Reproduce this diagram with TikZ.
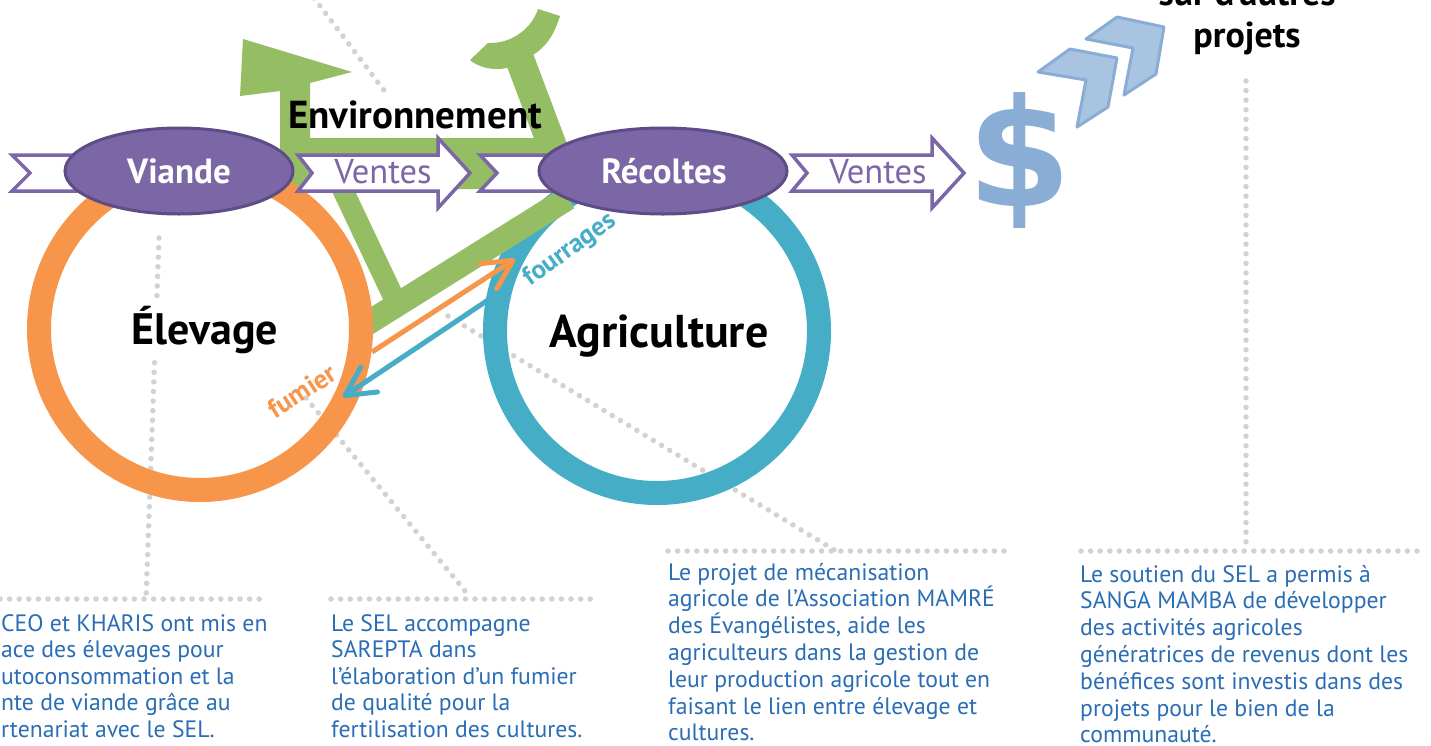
\documentclass[tikz,border=0pt]{standalone}
\usepackage{fontspec}
\setmainfont{PT Sans}
\newfontfamily\dollarfont{DejaVu Sans}
\usetikzlibrary{arrows.meta}
\definecolor{bikegreen}{HTML}{95BD64}
\definecolor{ringorange}{HTML}{F7964B}
\definecolor{ringblue}{HTML}{45ADC5}
\definecolor{purp}{HTML}{7B66A6}
\definecolor{purpdark}{HTML}{5D4C85}
\definecolor{dollarblue}{HTML}{89ADD4}
\definecolor{chevfill}{HTML}{A9C4E0}
\definecolor{dotgray}{HTML}{D2D2D2}
\definecolor{txtblue}{HTML}{2A6DB5}
\begin{document}
\begin{tikzpicture}[x=1pt,y=-1pt,
  dots/.style={draw=dotgray, line width=5.5pt, line cap=round, dash pattern=on 0pt off 9.6pt},
  body/.style={text=txtblue, font=\fontsize{23.7}{26}\selectfont, anchor=base west, inner sep=0pt},
  ribbon/.style={draw=purp, fill=white, line width=3.5pt, line join=miter},
  oval/.style={fill=purp, draw=purpdark, line width=3pt},
  ovaltext/.style={text=white, font=\fontsize{35}{40}\selectfont\bfseries, anchor=base, inner sep=0pt},
  ventes/.style={text=purp, font=\fontsize{34.5}{38}\selectfont, anchor=base, inner sep=0pt},
  big/.style={text=black, font=\fontsize{44}{48}\selectfont\bfseries, anchor=base, inner sep=0pt},
  flow/.style={line width=5pt, -{Straight Barb[length=29pt,width=30pt,round]}},
  chev/.style={fill=chevfill, draw=dollarblue, line width=3pt, line join=round}
]
\useasboundingbox (0,0) rectangle (1431,745);
\clip (0,0) rectangle (1431,745);
\fill[white] (0,0) rectangle (1431,745);

% ---------- dotted leader lines ----------
\coordinate (d0a) at (314,-2);   \coordinate (d0b) at (386,93);
\coordinate (d1a) at (159,238);  \coordinate (d1b) at (146,599);
\coordinate (h1a) at (0,599);    \coordinate (h1b) at (266,599);
\coordinate (d2a) at (306,398);  \coordinate (d2b) at (470,597);
\coordinate (h2a) at (331,599);  \coordinate (h2b) at (598,599);
\coordinate (d3a) at (448,316);  \coordinate (d3b) at (836,551);
\coordinate (h3a) at (668,551);  \coordinate (h3b) at (1008,551);
\coordinate (d4a) at (1246,81);  \coordinate (d4b) at (1246,551);
\coordinate (h4a) at (1081,551); \coordinate (h4b) at (1422,551);
\foreach \p in {d0,d1,h1,d2,h2,d3,h3,d4,h4}{\draw[dots] (\p a) -- (\p b);}

% ---------- rings and bicycle ----------
\draw[ringblue, line width=24pt] (657,331) circle[radius=162pt];
% saddle, seat post and top band
\fill[bikegreen] (243,39) -- (352,72) -- (310,83) -- (310,138) -- (545,138) -- (545,189)
  -- (280,189) -- (280,91) -- (240,96) -- cycle;
\draw[bikegreen, line width=21pt] (341,186) -- (394,298);
\draw[bikegreen, line width=24pt] (360,328) -- (568,198);
\draw[bikegreen, line width=29pt] (520,60) -- (567,185);
% handlebar
\fill[bikegreen] (538,9) -- (560,16) .. controls (553,38) and (545,47) .. (533,55) -- (507,68)
  .. controls (492,71) and (478,67) .. (470,60) -- (488,43)
  .. controls (512,44) and (532,28) .. (538,9) -- cycle;
\draw[ringorange, line width=24pt] (200,329) circle[radius=161pt];

% ---------- exchange arrows ----------
\coordinate (fa) at (372,352); \coordinate (fb) at (515,259);
\coordinate (ga) at (500,292); \coordinate (gb) at (343,397);
\draw[flow, ringorange] (fa) -- (fb);
\draw[flow, ringblue] (ga) -- (gb);
\node[text=ringorange, font=\fontsize{27}{30}\selectfont\bfseries, rotate=33, inner sep=0pt] (fumier) at (302,391) {fumier};
\node[text=ringblue, font=\fontsize{26.5}{30}\selectfont\bfseries, rotate=36, inner sep=0pt] (fourrages) at (570,250) {fourrages};

% ---------- ribbons, arrows and ovals ----------
\filldraw[ribbon] (12,155) -- (190,155) -- (190,191) -- (12,191) -- (30,173) -- cycle;
\filldraw[ribbon] (480,155) -- (600,155) -- (600,191) -- (480,191) -- (497,173) -- cycle;
\filldraw[ribbon] (298,155) -- (438,155) -- (438,138) -- (470,173) -- (438,208) -- (438,191)
  -- (298,191) -- (312,173) -- cycle;
\filldraw[ribbon] (792,155) -- (932,155) -- (932,138) -- (964,173) -- (932,208) -- (932,191)
  -- (792,191) -- (807,173) -- cycle;
\filldraw[oval] (179,171) ellipse[x radius=114pt, y radius=43pt];
\filldraw[oval] (663,171) ellipse[x radius=124pt, y radius=43pt];
\node[ovaltext] (viande) at (179,183) {Viande};
\node[ovaltext] (recoltes) at (664,183) {Récoltes};
\node[ventes] (ventes1) at (383,183) {Ventes};
\node[ventes] (ventes2) at (878,183) {Ventes};

% ---------- titles ----------
\node[big, font=\fontsize{39}{44}\selectfont\bfseries] (env) at (415,128) {Environnement};
\node[big, fill=white, inner sep=4pt] (elevage) at (205,344) {Élevage};
\node[big, font=\fontsize{46}{50}\selectfont\bfseries] (agri) at (659,347) {Agriculture};
\node[big, font=\fontsize{36}{40}\selectfont\bfseries] (sur) at (1247,5) {sur d’autres};
\node[big, font=\fontsize{36}{40}\selectfont\bfseries] (projets) at (1247,47) {projets};

% ---------- dollar and chevrons ----------
\node[text=dollarblue, font=\fontsize{150}{150}\selectfont\dollarfont\bfseries, inner sep=0pt] (dollar) at (1020,161) {\$};
\filldraw[chev] (1038,72) -- (1070,49) -- (1117,58) -- (1108,107) -- (1077,127) -- (1086,80) -- cycle;
\filldraw[chev] (1086,39) -- (1117,17) -- (1164,27) -- (1156,74) -- (1124,95) -- (1133,48) -- cycle;

% ---------- text blocks ----------
\foreach \t [count=\i] in {CEO et KHARIS ont mis en, ace des élevages pour, utoconsommation et la, nte de viande grâce au, rtenariat avec le SEL.}
  {\node[body] (ta\i) at (1,631+26.6*\i-26.6) {\t};}
\foreach \t [count=\i] in {Le SEL accompagne, SAREPTA dans, l’élaboration d’un fumier, de qualité pour la, fertilisation des cultures.}
  {\node[body] (tb\i) at (331,631+26.6*\i-26.6) {\t};}
\foreach \t [count=\i] in {Le projet de mécanisation, agricole de l’Association MAMRÉ, {des Évangélistes, aide les}, agriculteurs dans la gestion de, leur production agricole tout en, faisant le lien entre élevage et, cultures.}
  {\node[body] (tc\i) at (668,580+26.8*\i-26.8) {\t};}
\foreach \t [count=\i] in {Le soutien du SEL a permis à, SANGA MAMBA de développer, des activités agricoles, génératrices de revenus dont les, bénéfices sont investis dans des, projets pour le bien de la, communauté.}
  {\node[body] (td\i) at (1080,582+26.8*\i-26.8) {\t};}
\end{tikzpicture}
\end{document}
